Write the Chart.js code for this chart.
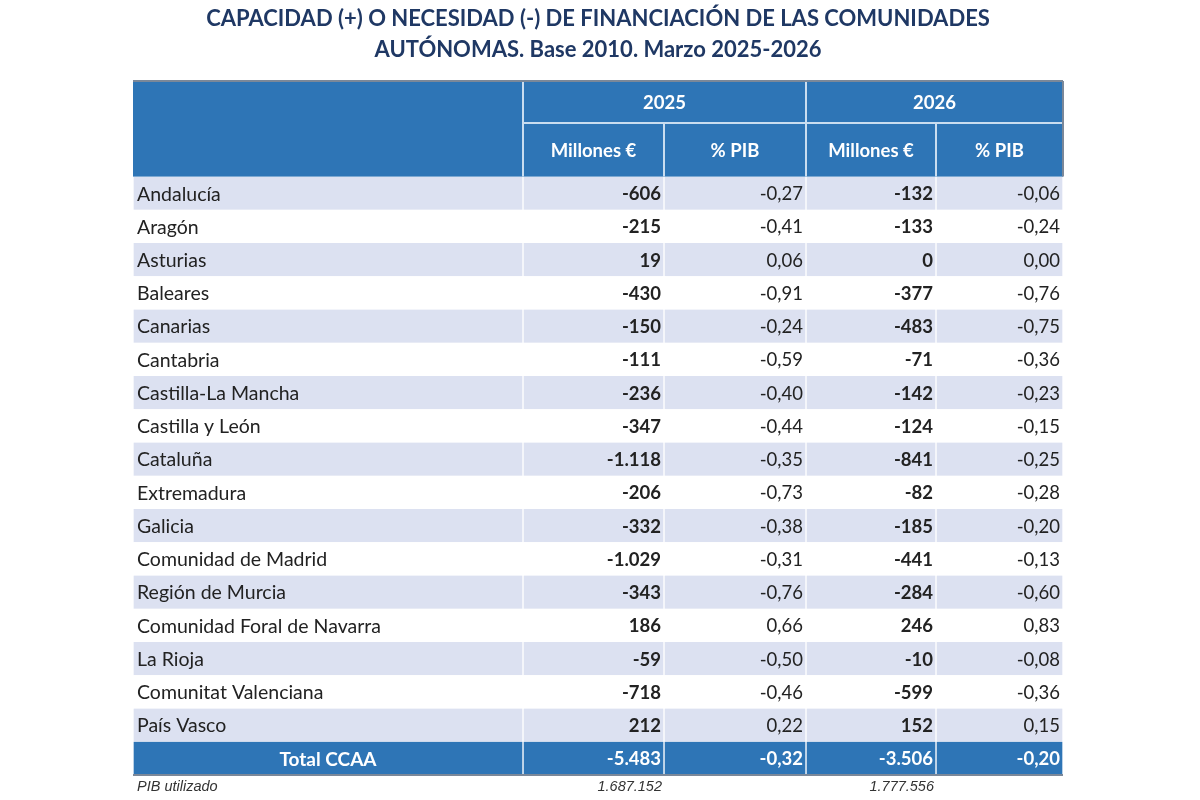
<!DOCTYPE html>
<html>
<head>
<meta charset="utf-8">
<script src="https://cdn.jsdelivr.net/npm/chart.js@4.4.1/dist/chart.umd.min.js"></script>
<style>
  html, body { margin: 0; padding: 0; background: #fff; }
  #wrap { width: 1200px; height: 800px; }
</style>
</head>
<body>
<div id="wrap"><canvas id="c" width="1200" height="800"></canvas></div>
<script>
const regions = ['Andalucía', 'Aragón', 'Asturias', 'Baleares', 'Canarias', 'Cantabria',
  'Castilla-La Mancha', 'Castilla y León', 'Cataluña', 'Extremadura', 'Galicia',
  'Comunidad de Madrid', 'Región de Murcia', 'Comunidad Foral de Navarra', 'La Rioja',
  'Comunitat Valenciana', 'País Vasco'];
const mill2025 = [-606, -215, 19, -430, -150, -111, -236, -347, -1118, -206, -332, -1029, -343, 186, -59, -718, 212];
const pib2025 = [-0.27, -0.41, 0.06, -0.91, -0.24, -0.59, -0.40, -0.44, -0.35, -0.73, -0.38, -0.31, -0.76, 0.66, -0.50, -0.46, 0.22];
const mill2026 = [-132, -133, 0, -377, -483, -71, -142, -124, -841, -82, -185, -441, -284, 246, -10, -599, 152];
const pib2026 = [-0.06, -0.24, 0.00, -0.76, -0.75, -0.36, -0.23, -0.15, -0.25, -0.28, -0.20, -0.13, -0.60, 0.83, -0.08, -0.36, 0.15];
const totalLabel = 'Total CCAA';
const totals = [-5483, -0.32, -3506, -0.20];
const years = ['2025', '2026'];
const subHeaders = ['Millones €', '% PIB'];
const pibLabel = 'PIB utilizado';
const pibUsed = [1687152, 1777556];

// layout (table units along the x scale)
const colEdges = [0, 390, 531, 673, 803, 930];
const BLUE = '#2E75B6';
const SHADE = '#DCE1F1';
const FONT = 'Lato, "Open Sans", sans-serif';

const rows = regions.concat([totalLabel]);
const columns = [null, mill2025, pib2025, mill2026, pib2026];

function fmtInt(v) {
  const s = String(Math.abs(v)).replace(/\B(?=(\d{3})+(?!\d))/g, '.');
  return (v < 0 ? '-' : '') + s;
}
function fmtDec(v) {
  return v.toFixed(2).replace('.', ',');
}

const datasets = colEdges.slice(0, -1).map((x0, ci) => ({
  label: 'col' + ci,
  data: rows.map(() => [x0, colEdges[ci + 1]]),
  backgroundColor: rows.map((r, ri) => ri === rows.length - 1 ? BLUE : (ri % 2 === 0 ? SHADE : '#ffffff')),
  borderColor: '#ffffff',
  borderWidth: { left: 1, right: 1, top: 0, bottom: 0 },
  borderSkipped: false,
  barPercentage: 1,
  categoryPercentage: 1,
  grouped: false
}));

const tablePlugin = {
  id: 'tableText',
  afterDatasetsDraw(chart) {
    const ctx = chart.ctx;
    const xs = chart.scales.x, ys = chart.scales.y;
    const px = colEdges.map(v => xs.getPixelForValue(v));
    const top = chart.chartArea.top;
    const rowH = ys.getPixelForValue(1) - ys.getPixelForValue(0);
    const h1Top = 82, h1Bot = 123;

    ctx.save();
    // header block
    ctx.fillStyle = BLUE;
    ctx.fillRect(px[0], h1Top, px[5] - px[0], top - h1Top);
    ctx.strokeStyle = '#C9DDF0';
    ctx.lineWidth = 2;
    ctx.beginPath();
    [1, 3].forEach(i => { ctx.moveTo(px[i], h1Top); ctx.lineTo(px[i], top); });
    [2, 4].forEach(i => { ctx.moveTo(px[i], h1Bot); ctx.lineTo(px[i], top); });
    ctx.moveTo(px[1], h1Bot); ctx.lineTo(px[5], h1Bot);
    ctx.stroke();
    ctx.strokeStyle = '#7B8899';
    ctx.lineWidth = 2;
    ctx.beginPath();
    ctx.moveTo(px[0], h1Top - 1); ctx.lineTo(px[5], h1Top - 1);
    ctx.moveTo(px[5], h1Top - 1); ctx.lineTo(px[5], top);
    ctx.stroke();

    ctx.fillStyle = '#ffffff';
    ctx.textBaseline = 'middle';
    ctx.textAlign = 'center';
    ctx.font = 'bold 18.5px ' + FONT;
    years.forEach((y, i) => {
      ctx.fillText(y, (px[1 + 2 * i] + px[3 + 2 * i]) / 2, (h1Top + h1Bot) / 2 + 1);
    });
    for (let c = 1; c <= 4; c++) {
      ctx.fillText(subHeaders[(c - 1) % 2], (px[c] + px[c + 1]) / 2, (h1Bot + top) / 2 + 1);
    }

    // body cells
    rows.forEach((name, ri) => {
      const cy = ys.getPixelForValue(ri) + 1;
      const isTotal = ri === rows.length - 1;
      ctx.fillStyle = isTotal ? '#ffffff' : '#222222';
      if (isTotal) {
        ctx.font = 'bold 19px ' + FONT;
        ctx.textAlign = 'center';
        ctx.fillText(name, (px[0] + px[1]) / 2, cy);
      } else {
        ctx.font = '19.5px ' + FONT;
        ctx.textAlign = 'left';
        ctx.fillText(name, px[0] + 4, cy);
      }
      ctx.textAlign = 'right';
      for (let c = 1; c <= 4; c++) {
        const v = isTotal ? totals[c - 1] : columns[c][ri];
        const isMill = c % 2 === 1;
        ctx.font = (isMill || isTotal ? 'bold ' : '') + '18.5px ' + FONT;
        ctx.fillText(isMill ? fmtInt(v) : fmtDec(v), px[c + 1] - 3, cy);
      }
    });

    // border under total row
    const tb = ys.getPixelForValue(rows.length - 1) + rowH / 2;
    ctx.strokeStyle = '#7B8899';
    ctx.lineWidth = 2;
    ctx.beginPath();
    ctx.moveTo(px[0], tb); ctx.lineTo(px[5], tb);
    ctx.stroke();

    // PIB row below the table
    const py = tb + 12;
    ctx.fillStyle = '#333333';
    ctx.font = 'italic 14.5px "Liberation Sans", Arial, sans-serif';
    ctx.textAlign = 'left';
    ctx.fillText(pibLabel, px[0] + 4, py);
    ctx.textAlign = 'right';
    ctx.fillText(fmtInt(pibUsed[0]), px[2] - 2, py);
    ctx.fillText(fmtInt(pibUsed[1]), px[4] - 2, py);
    ctx.restore();
  }
};

new Chart(document.getElementById('c'), {
  type: 'bar',
  data: { labels: rows, datasets },
  options: {
    indexAxis: 'y',
    responsive: false,
    animation: false,
    layout: { padding: { left: 133, right: 137, top: 0, bottom: 25 } },
    scales: {
      x: { type: 'linear', min: colEdges[0], max: colEdges[colEdges.length - 1], display: false },
      y: { type: 'category', display: false, offset: true }
    },
    plugins: {
      legend: { display: false },
      tooltip: { enabled: false },
      title: {
        display: true,
        text: ['CAPACIDAD (+) O NECESIDAD (-) DE FINANCIACIÓN DE LAS COMUNIDADES',
               'AUTÓNOMAS. Base 2010. Marzo 2025-2026'],
        color: '#1F3864',
        font: { family: FONT, size: 22, weight: 'bold', lineHeight: 1.4 },
        padding: { top: 4, bottom: 111 }
      }
    }
  },
  plugins: [tablePlugin]
});
</script>
</body>
</html>
